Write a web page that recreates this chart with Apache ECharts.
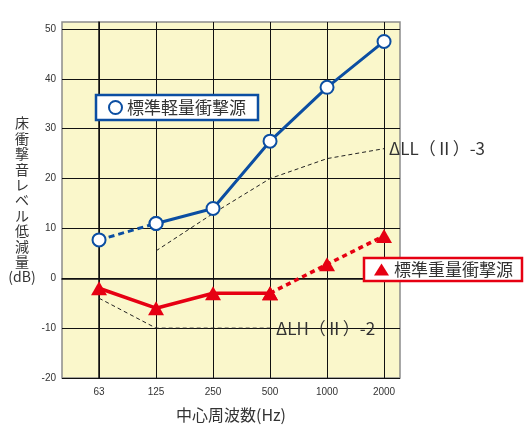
<!DOCTYPE html>
<html>
<head>
<meta charset="utf-8">
<script src="https://cdn.jsdelivr.net/npm/echarts@6/dist/echarts.min.js"></script>
<style>
html,body{margin:0;padding:0;background:#fff;}
#c{width:524px;height:428px;}
</style>
</head>
<body>
<div id="c"></div>
<script>
// ---- data ----
var categories = ['63', '125', '250', '500', '1000', '2000'];
var lightValues = [7.7, 11, 14, 27.5, 38.3, 47.5];      // 標準軽量衝撃源
var heavyValues = [-2, -6, -3, -3, 2.8, 8.5];           // 標準重量衝撃源
var llRef = [null, 5.5, 13, 20, 24, 26];                 // ΔLL(Ⅱ)-3
var lhRef = [-4, -10, -10, -10, null, null];             // ΔLH(Ⅱ)-2
var yTicks = [-20, -10, 0, 10, 20, 30, 40, 50];
var lightName = '標準軽量衝撃源';
var heavyName = '標準重量衝撃源';
var llLabel = 'ΔLL（Ⅱ）-3';
var lhLabel = 'ΔLH（Ⅱ）-2';

var BLUE = '#0B4EA2';
var RED = '#E60012';
var TXT = '#333333';
var CJK = '"Noto Sans CJK JP", "Noto Sans", sans-serif';
var LAT = '"Liberation Sans", Arial, sans-serif';

function pts(arr, keep) {
  return categories.map(function (c, i) { return [i, arr[i]]; })
    .filter(function (d, i) { return d[1] != null && (!keep || keep(i)); });
}
var catIdx = categories.map(function (c, i) { return i; });

var chart = echarts.init(document.getElementById('c'), null, {renderer: 'canvas'});
chart.setOption({
  animation: false,
  backgroundColor: '#ffffff',
  grid: {
    left: 62, top: 22, right: 124, bottom: 49,
    show: true, backgroundColor: '#FAF7CB', borderColor: '#8c8c8c', borderWidth: 1.5
  },
  xAxis: {
    type: 'value', min: -0.65, max: 5.28,
    name: '中心周波数(Hz)', nameLocation: 'middle', nameGap: 29,
    nameTextStyle: {fontSize: 16, color: TXT, fontFamily: CJK},
    axisLine: {show: true, lineStyle: {color: '#111', width: 1.5}},
    axisTick: {show: false, customValues: catIdx},
    axisLabel: {
      customValues: catIdx, margin: 9, fontSize: 10, color: TXT, fontFamily: LAT,
      formatter: function (v) { return categories[Math.round(v)]; }
    },
    splitLine: {show: true, lineStyle: {color: '#111', width: 1}}
  },
  yAxis: {
    type: 'value', min: -20, max: 51.4,
    name: '床\n衝\n撃\n音\nレ\nベ\nル\n低\n減\n量\n(dB)', nameLocation: 'middle', nameRotate: 0, nameGap: 34,
    nameTextStyle: {fontSize: 14, lineHeight: 15.4, color: TXT, fontFamily: CJK, align: 'center', padding: [5, 0, 0, 0]},
    axisLine: {show: true, lineStyle: {color: '#111', width: 1.5}},
    axisTick: {show: false, customValues: yTicks},
    axisLabel: {customValues: yTicks, margin: 6, fontSize: 10, color: TXT, fontFamily: LAT},
    splitLine: {show: true, lineStyle: {color: '#111', width: 1}}
  },
  legend: [
    {
      data: [{name: lightName, icon: 'circle', itemStyle: {color: '#fff', borderColor: BLUE, borderWidth: 2}}],
      left: 96, top: 95, orient: 'horizontal',
      itemWidth: 13, itemHeight: 13,
      padding: [4, 12, 4, 12],
      backgroundColor: '#fff', borderColor: BLUE, borderWidth: 2.5,
      textStyle: {fontSize: 17, color: TXT, fontFamily: CJK},
      selectedMode: false
    },
    {
      data: [{name: heavyName, icon: 'triangle', itemStyle: {color: RED}}],
      left: 364, top: 258, orient: 'horizontal',
      itemWidth: 15, itemHeight: 12,
      padding: [3, 9, 3, 10],
      backgroundColor: '#fff', borderColor: RED, borderWidth: 2.5,
      textStyle: {fontSize: 17, color: TXT, fontFamily: CJK},
      selectedMode: false
    }
  ],
  series: [
    {
      name: 'LLref', type: 'line', data: pts(llRef), z: 2,
      symbol: 'none', lineStyle: {color: '#222', width: 1, type: [4, 3]},
      endLabel: {show: true, formatter: llLabel, distance: 5, fontSize: 17, color: TXT, fontFamily: CJK}
    },
    {
      name: 'LHref', type: 'line', data: pts(lhRef), z: 2,
      symbol: 'none', lineStyle: {color: '#222', width: 1, type: [4, 3]},
      endLabel: {show: true, formatter: lhLabel, distance: 6, fontSize: 17, color: TXT, fontFamily: CJK}
    },
    {
      name: lightName, type: 'line', data: pts(lightValues, function (i) { return i <= 1; }), z: 3,
      symbol: 'circle', symbolSize: 13,
      itemStyle: {color: '#fff', borderColor: BLUE, borderWidth: 2},
      lineStyle: {color: BLUE, width: 3, type: [6, 4]}
    },
    {
      name: lightName, type: 'line', data: pts(lightValues, function (i) { return i >= 1; }), z: 4,
      symbol: 'circle', symbolSize: 13,
      itemStyle: {color: '#fff', borderColor: BLUE, borderWidth: 2},
      lineStyle: {color: BLUE, width: 3}
    },
    {
      name: heavyName, type: 'line', data: pts(heavyValues, function (i) { return i <= 3; }), z: 4,
      symbol: 'triangle', symbolSize: [16, 14],
      itemStyle: {color: RED},
      lineStyle: {color: RED, width: 3.5}
    },
    {
      name: heavyName, type: 'line', data: pts(heavyValues, function (i) { return i >= 3; }), z: 3,
      symbol: 'triangle', symbolSize: [16, 14],
      itemStyle: {color: RED},
      lineStyle: {color: RED, width: 3.5, type: [5, 4]}
    }
  ]
});
</script>
</body>
</html>
